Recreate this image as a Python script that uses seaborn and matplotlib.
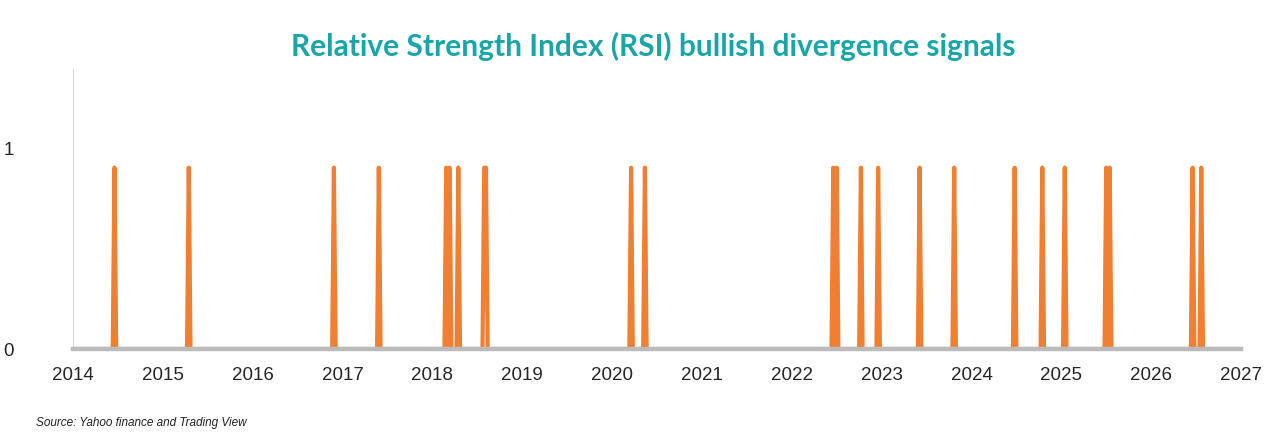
import numpy as np
import pandas as pd
import matplotlib
matplotlib.use("Agg")
import matplotlib.pyplot as plt
import seaborn as sns

signal_years = [2014.455, 2015.28, 2016.90, 2017.405, 2018.147, 2018.198, 2018.287,
                2018.58, 2018.60, 2020.21, 2020.37, 2022.454, 2022.493, 2022.766,
                2022.96, 2023.42, 2023.80, 2024.475, 2024.78, 2025.03, 2025.50,
                2025.53, 2026.465, 2026.56]
signal_value = 0.9

grid = np.round(np.arange(2014.0, 2027.0, 1 / 52), 4)
vals = np.zeros(len(grid))
for y in signal_years:
    vals[np.argmin(np.abs(grid - y))] = signal_value
df = pd.DataFrame({"year": grid, "signal": vals})

sns.set_style("white")
plt.rcParams["font.family"] = ["Liberation Sans", "DejaVu Sans"]
fig = plt.figure(figsize=(12.8, 4.39), dpi=100)
ax = fig.add_axes([73 / 1280, 89 / 439, (1241 - 73) / 1280, 280 / 439])
sns.lineplot(data=df, x="year", y="signal", ax=ax, color="#F07F31", linewidth=3.0)
ax.set_xlim(2014, 2027)
ax.set_ylim(0, 1.39)
ax.set_xticks(range(2014, 2028))
ax.set_xticklabels([str(y) for y in range(2014, 2028)], fontsize=13.5)
ax.set_yticks([0, 1])
ax.set_yticklabels(["0", "1"], fontsize=13.5)
ax.tick_params(axis="y", length=0, pad=50)
ax.tick_params(axis="x", length=6, color="#BBBBBB", width=1.2, pad=6)
for lab in ax.get_yticklabels():
    lab.set_horizontalalignment("left")
ax.set_xlabel("")
ax.set_ylabel("")
for s in ["top", "right"]:
    ax.spines[s].set_visible(False)
ax.spines["left"].set_color("#D9D9D9")
ax.spines["bottom"].set_color("#BBBBBB")
ax.spines["bottom"].set_linewidth(3.2)
ax.spines["bottom"].set_zorder(5)
fig.text(0.51, 0.895, "Relative Strength Index (RSI) bullish divergence signals",
         ha="center", va="center", fontsize=21.5, fontweight="bold", color="#1AA6A8",
         family=["Lato", "DejaVu Sans"])
fig.text(36 / 1280, 1 - 423 / 439, "Source: Yahoo finance and Trading View",
         ha="left", va="center", fontsize=8.5, style="italic", color="#222222")
fig.savefig("out.png", dpi=100)
